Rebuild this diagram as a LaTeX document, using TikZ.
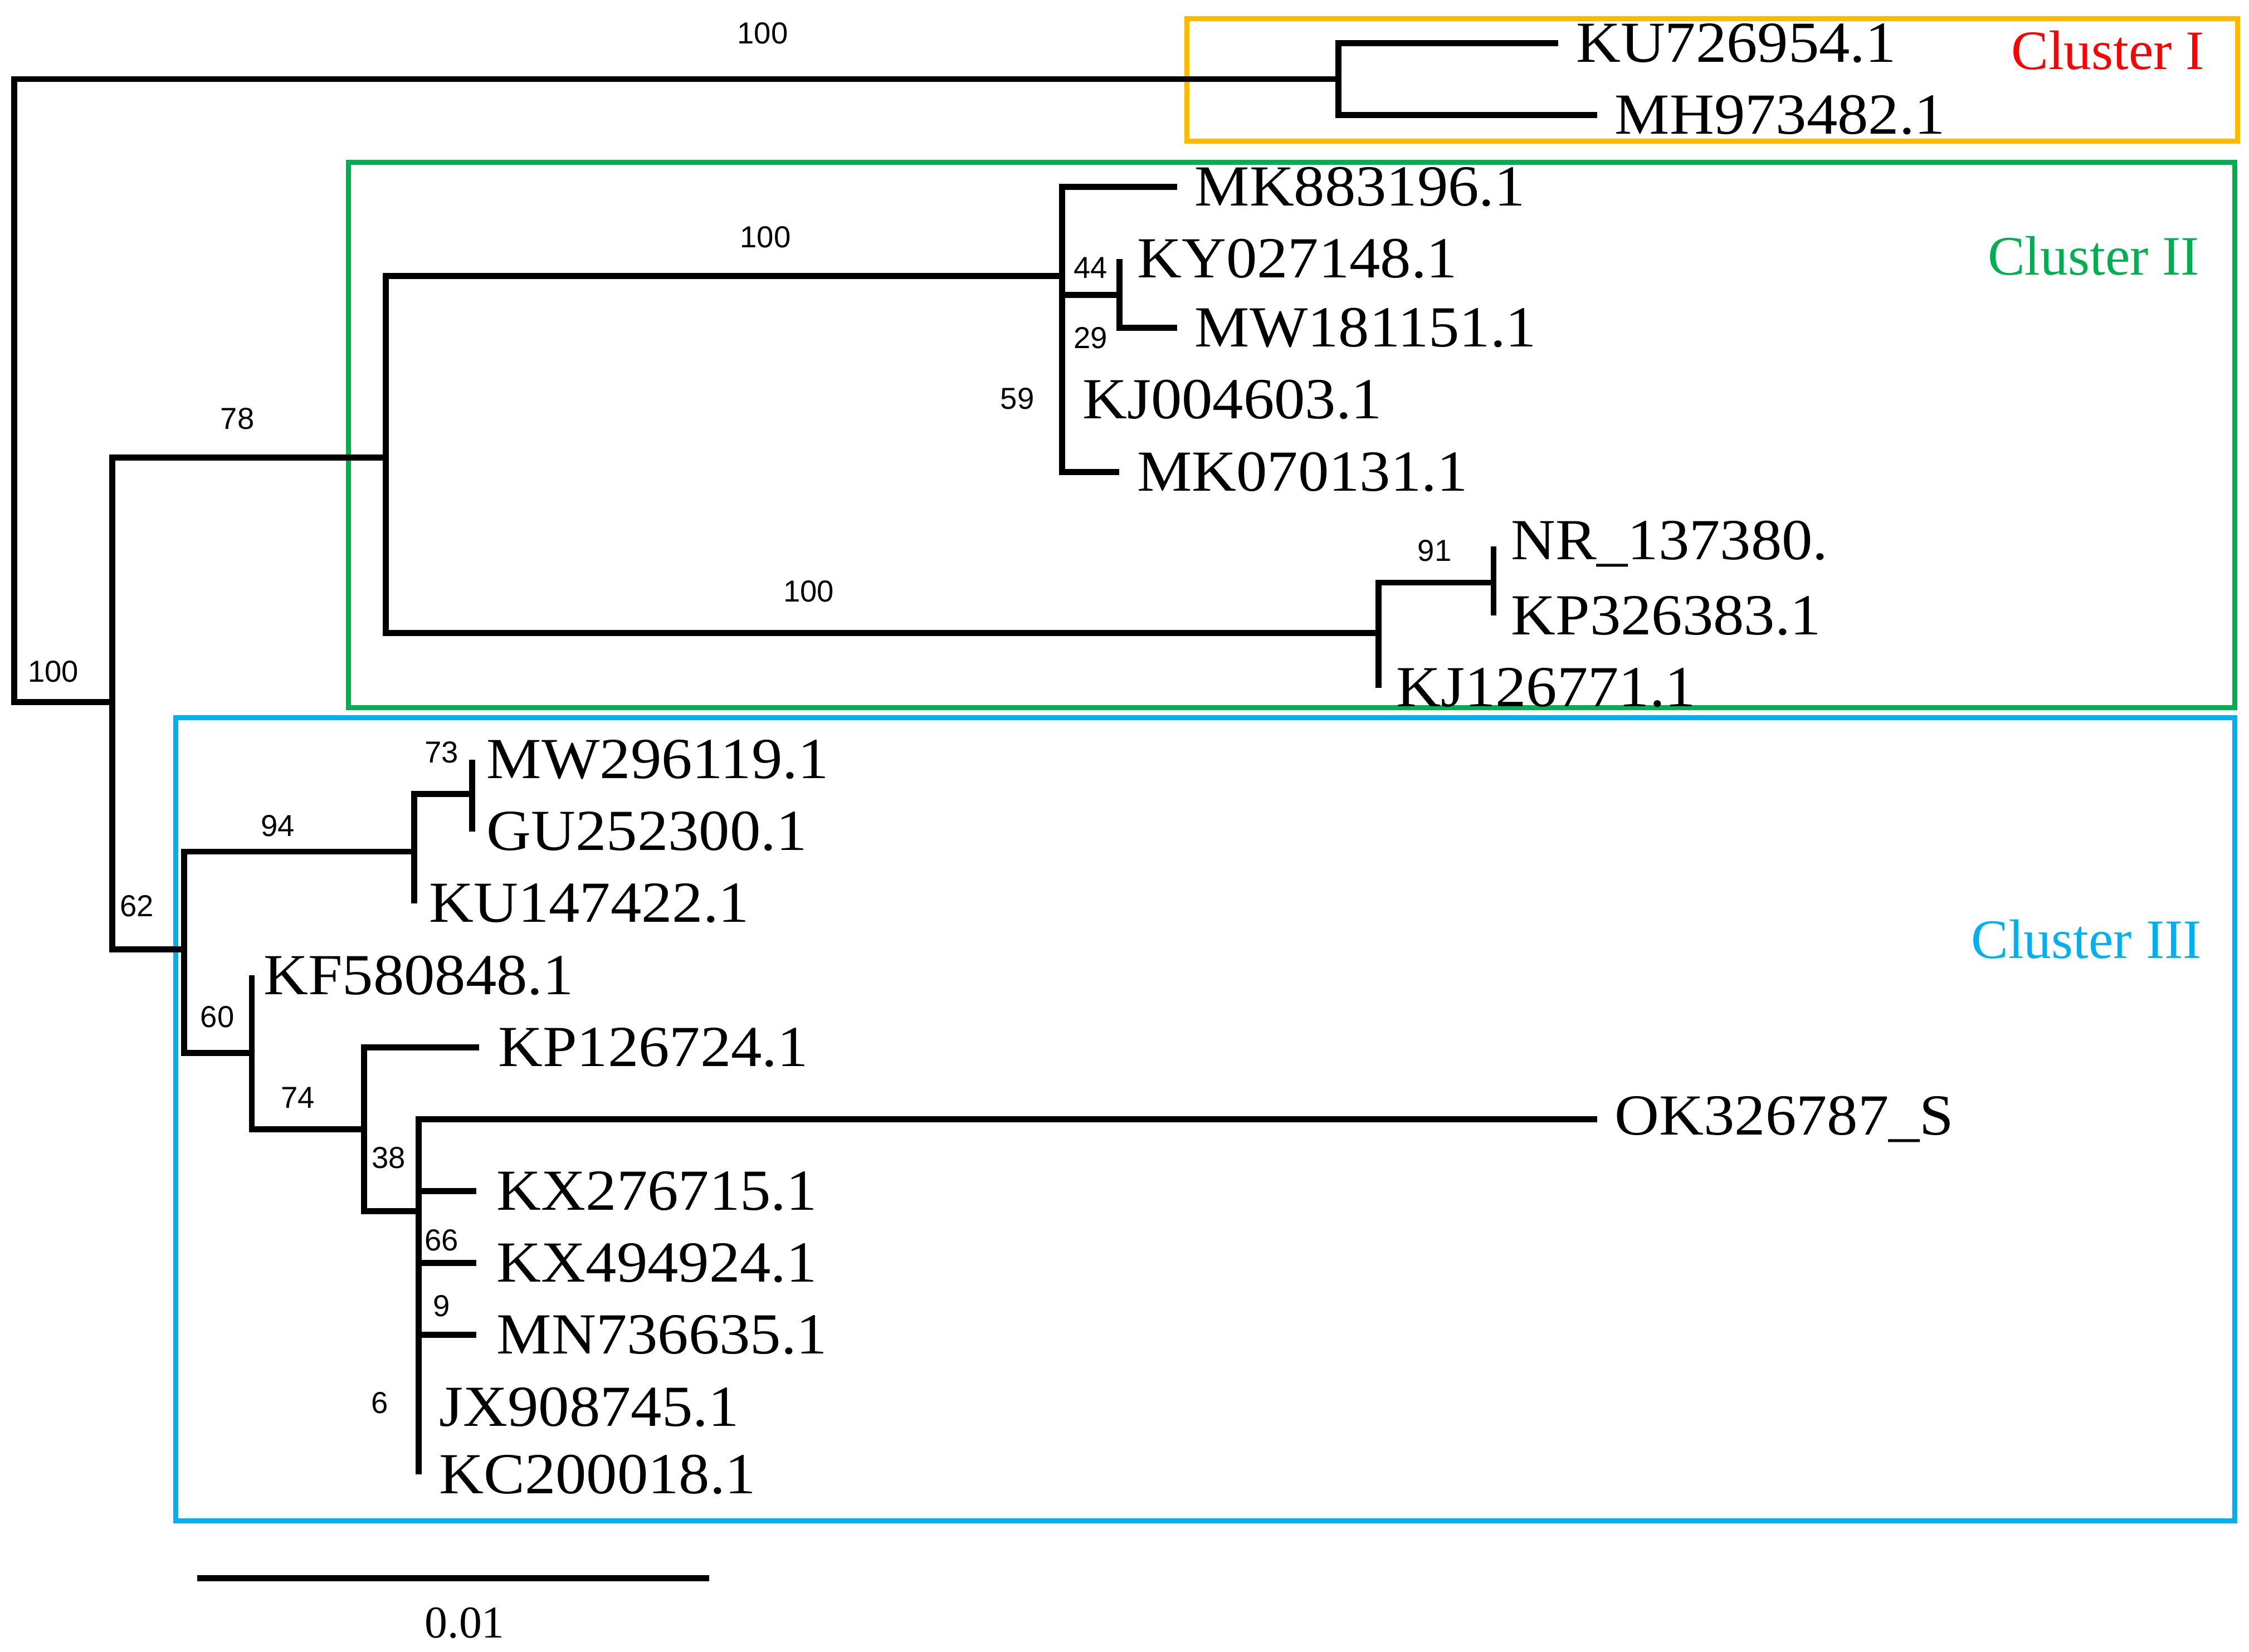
\documentclass[tikz,border=0pt]{standalone}
\usepackage{fontspec}
\setmainfont{Liberation Serif}
\newfontfamily\bsfont{Liberation Sans}
\newfontfamily\leaffont{Liberation Serif}[FakeStretch=1.06]
\begin{document}
\begin{tikzpicture}[x=0.02cm,y=-0.02cm,
  br/.style={line width=2.4pt},
  leaf/.style={anchor=west,inner sep=0pt,font=\leaffont\fontsize{23}{23}\selectfont},
  bs/.style={inner sep=0pt,font=\bsfont\fontsize{12}{12}\selectfont},
  box/.style={line width=2pt,draw=#1},
  cl/.style={inner sep=0pt,font=\fontsize{22}{22}\selectfont,text=#1}]
\useasboundingbox (0,0) rectangle (1563,1148);
\definecolor{cor}{RGB}{255,185,0}
\definecolor{cgr}{RGB}{0,176,80}
\definecolor{cbl}{RGB}{0,176,240}
% boxes
\draw[box=cor] (825,13) rectangle (1555,98);
\draw[box=cgr] (242,113) rectangle (1553,492);
\draw[box=cbl] (122,499) rectangle (1553,1057);
\node[cl=red] (c1) at (1465,35) {Cluster I};
\node[cl=cgr] (c2) at (1455,178) {Cluster II};
\node[cl=cbl] (c3) at (1450,653) {Cluster III};
% internal nodes
\coordinate (root) at (10,272);
\coordinate (nA) at (930,55);
\coordinate (nB) at (78,488);
\coordinate (nC) at (268,318);
\coordinate (nD) at (738,192);
\coordinate (nE) at (778,205);
\coordinate (nF) at (958,440);
\coordinate (nG) at (1038,405);
\coordinate (nH) at (128,660);
\coordinate (nI) at (288,592);
\coordinate (nJ) at (328,552);
\coordinate (nK) at (175,732);
\coordinate (nL) at (253,785);
\coordinate (nM) at (291,842);
\coordinate (nN) at (291,878);
% leaves
\coordinate (l1) at (1083,30);
\coordinate (l2) at (1110,80);
\coordinate (l3) at (818,130);
\coordinate (l4) at (778,180);
\coordinate (l5) at (818,228);
\coordinate (l6) at (738,278);
\coordinate (l7) at (778,328);
\coordinate (l8) at (1038,380);
\coordinate (l9) at (1038,428);
\coordinate (l10) at (958,478);
\coordinate (l11) at (328,528);
\coordinate (l12) at (328,578);
\coordinate (l13) at (288,628);
\coordinate (l14) at (175,678);
\coordinate (l15) at (333,728);
\coordinate (l16) at (1110,778);
\coordinate (l17) at (331,828);
\coordinate (l18) at (331,878);
\coordinate (l19) at (331,928);
\coordinate (l20) at (291,978);
\coordinate (l21) at (291,1025);
% edges
\draw[br] (root) |- (nA);
\draw[br] (root) |- (nB);
\draw[br] (nA) |- (l1);
\draw[br] (nA) |- (l2);
\draw[br] (nB) |- (nC);
\draw[br] (nB) |- (nH);
\draw[br] (nC) |- (nD);
\draw[br] (nC) |- (nF);
\draw[br] (nD) |- (l3);
\draw[br] (nD) |- (nE);
\draw[br] (nE) |- (l4);
\draw[br] (nE) |- (l5);
\draw[br] (nD) |- (l6);
\draw[br] (nD) |- (l7);
\draw[br] (nF) |- (nG);
\draw[br] (nG) |- (l8);
\draw[br] (nG) |- (l9);
\draw[br] (nF) |- (l10);
\draw[br] (nH) |- (nI);
\draw[br] (nH) |- (nK);
\draw[br] (nI) |- (nJ);
\draw[br] (nJ) |- (l11);
\draw[br] (nJ) |- (l12);
\draw[br] (nI) |- (l13);
\draw[br] (nK) |- (l14);
\draw[br] (nK) |- (nL);
\draw[br] (nL) |- (l15);
\draw[br] (nL) |- (nM);
\draw[br] (nM) |- (l16);
\draw[br] (nM) |- (l17);
\draw[br] (nM) |- (nN);
\draw[br] (nN) |- (l18);
\draw[br] (nN) |- (l19);
\draw[br] (nM) |- (l20);
\draw[br] (nM) |- (l21);
% leaf labels
\node[leaf] (t1) at (1095,30) {KU726954.1};
\node[leaf] (t2) at (1122,80) {MH973482.1};
\node[leaf] (t3) at (830,130) {MK883196.1};
\node[leaf] (t4) at (790,180) {KY027148.1};
\node[leaf] (t5) at (830,228) {MW181151.1};
\node[leaf] (t6) at (752,278) {KJ004603.1};
\node[leaf] (t7) at (790,328) {MK070131.1};
\node[leaf] (t8) at (1050,378) {NR\_137380.};
\node[leaf] (t9) at (1050,428) {KP326383.1};
\node[leaf] (t10) at (970,478) {KJ126771.1};
\node[leaf] (t11) at (338,528) {MW296119.1};
\node[leaf] (t12) at (338,578) {GU252300.1};
\node[leaf] (t13) at (298,628) {KU147422.1};
\node[leaf] (t14) at (183,678) {KF580848.1};
\node[leaf] (t15) at (346,728) {KP126724.1};
\node[leaf] (t16) at (1122,778) {OK326787\_S};
\node[leaf] (t17) at (345,828) {KX276715.1};
\node[leaf] (t18) at (345,878) {KX494924.1};
\node[leaf] (t19) at (345,928) {MN736635.1};
\node[leaf] (t20) at (305,978) {JX908745.1};
\node[leaf] (t21) at (305,1025) {KC200018.1};
% bootstrap
\node[bs] (b1) at (530,23) {100};
\node[bs] (b2) at (37,467) {100};
\node[bs] (b3) at (165,291) {78};
\node[bs] (b4) at (532,165) {100};
\node[bs] (b5) at (758,186) {44};
\node[bs] (b6) at (758,235) {29};
\node[bs] (b7) at (707,277) {59};
\node[bs] (b8) at (562,411) {100};
\node[bs] (b9) at (997,383) {91};
\node[bs] (b10) at (95,630) {62};
\node[bs] (b11) at (193,574) {94};
\node[bs] (b12) at (307,523) {73};
\node[bs] (b13) at (151,707) {60};
\node[bs] (b14) at (207,763) {74};
\node[bs] (b15) at (270,805) {38};
\node[bs] (b16) at (307,862) {66};
\node[bs] (b17) at (307,908) {9};
\node[bs] (b18) at (264,975) {6};
% scale bar
\coordinate (s1) at (137,1097);
\coordinate (s2) at (493,1097);
\draw[br] (s1) -- (s2);
\node[inner sep=0pt,font=\fontsize{18}{18}\selectfont] (sl) at (323,1128) {0.01};
\end{tikzpicture}
\end{document}
